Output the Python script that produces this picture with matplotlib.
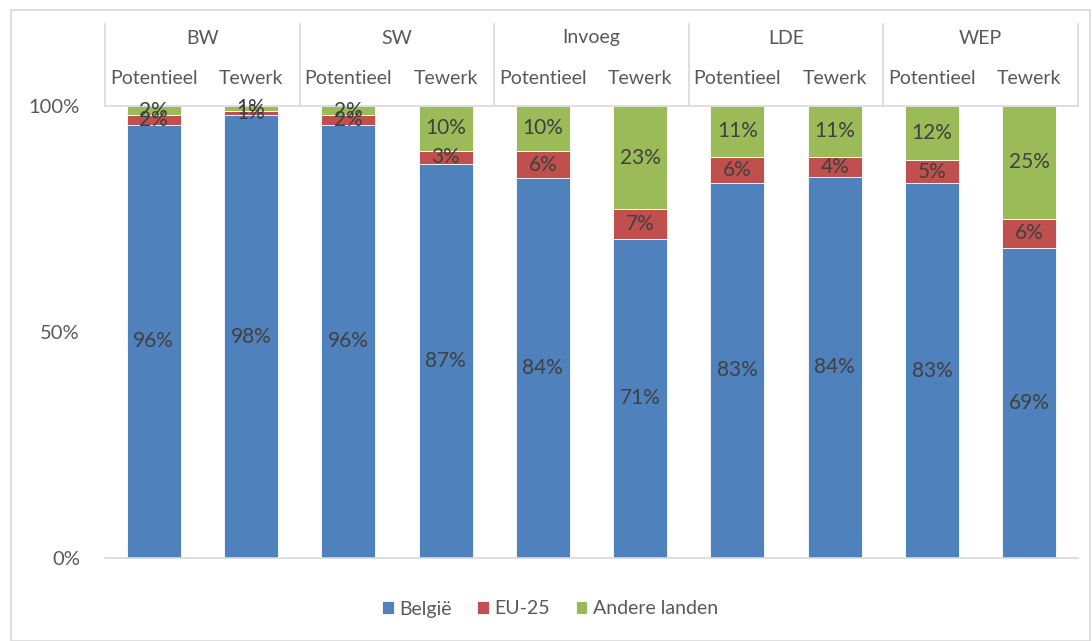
import matplotlib
matplotlib.use("Agg")
import matplotlib.pyplot as plt
from matplotlib.patches import Rectangle
import numpy as np

plt.rcParams['font.family'] = ['Lato', 'DejaVu Sans']

groups = ["BW", "SW", "Invoeg", "LDE", "WEP"]
subs = ["Potentieel", "Tewerk"]
belgie = [95.8, 97.9, 95.8, 87.2, 84.0, 70.6, 83.0, 84.4, 82.9, 68.6]
eu25 = [2.1, 1.1, 2.2, 2.9, 6.1, 6.6, 5.8, 4.4, 5.1, 6.4]
andere = [2.1, 1.0, 2.0, 9.9, 9.9, 22.8, 11.2, 11.2, 12.0, 25.0]
series = ["België", "EU-25", "Andere landen"]
colors = ["#4F81BD", "#C0504D", "#9BBB59"]

W, H = 1092, 641
fig = plt.figure(figsize=(W / 100, H / 100), dpi=100)
ax = fig.add_axes([105 / W, (H - 558) / H, (1078 - 105) / W, (558 - 106) / H])

x = np.arange(len(belgie))
data = [np.array(belgie) / 100, np.array(eu25) / 100, np.array(andere) / 100]
bottom = np.zeros(len(x))
handles = []
for vals, col, name in zip(data, colors, series):
    b = ax.bar(x, vals, 0.555, bottom=bottom, color=col, edgecolor="white",
               linewidth=0.6, label=name)
    handles.append(b)
    for xi, v, bt in zip(x, vals, bottom):
        ax.text(xi, bt + v / 2, f"{round(v * 100):.0f}%", ha="center", va="center",
                fontsize=15, color="#404040")
    bottom = bottom + vals

ax.set_xlim(-0.5, len(x) - 0.5)
ax.set_ylim(0, 1)
ax.set_yticks([0, 0.5, 1])
ax.set_yticklabels(["0%", "50%", "100%"])
ax.set_xticks([])
ax.tick_params(axis="y", length=0, pad=18, labelsize=14.5, labelcolor="#595959")
for s in ["left", "right", "top"]:
    ax.spines[s].set_visible(False)
ax.spines["bottom"].set_color("#D9D9D9")
ax.spines["bottom"].set_linewidth(1.2)

# header (multi-level category axis on top)
hdr_top = (558 - 24) / 452
line_kw = dict(color="#D9D9D9", lw=1.2, clip_on=False)
ax.plot([-0.5, len(x) - 0.5], [1, 1], **line_kw)
for k in range(len(groups) + 1):
    xv = -0.5 + 2 * k
    ax.plot([xv, xv], [1, hdr_top], **line_kw)
for gi, g in enumerate(groups):
    ax.text(2 * gi + 0.5, (558 - 38) / 452, g, ha="center", va="center",
            fontsize=14, color="#595959", clip_on=False)
    for si, s in enumerate(subs):
        ax.text(2 * gi + si, (558 - 79) / 452, s, ha="center", va="center",
                fontsize=14, color="#595959", clip_on=False)

fig.legend(handles, series, loc="center", bbox_to_anchor=(550 / W, (H - 609) / H),
           ncol=3, frameon=False, fontsize=14, labelcolor="#595959",
           handlelength=0.6, handleheight=0.6, handletextpad=0.3, columnspacing=1.3)

fig.patches.append(Rectangle((11 / W, 0), (1090 - 11) / W, (H - 10) / H,
                             transform=fig.transFigure, fill=False,
                             edgecolor="#D9D9D9", lw=1.2))

fig.savefig("out.png", dpi=100)
